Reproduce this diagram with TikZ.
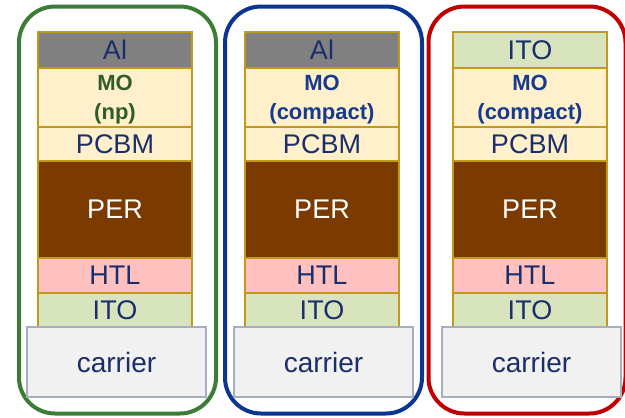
\documentclass[tikz,border=0pt]{standalone}
\usepackage{fontspec}
\setmainfont{Liberation Sans}
\definecolor{txtnavy}{HTML}{1A2F6A}
\definecolor{mogreen}{HTML}{2F5D28}
\definecolor{moblue}{HTML}{183A8C}
\definecolor{layeredge}{HTML}{C09A1A}
\definecolor{alfill}{HTML}{808080}
\definecolor{mofill}{HTML}{FFF0CC}
\definecolor{perfill}{HTML}{7B3A00}
\definecolor{htlfill}{HTML}{FFC0C0}
\definecolor{itofill}{HTML}{D8E4BE}
\definecolor{carfill}{HTML}{F1F1F1}
\definecolor{caredge}{HTML}{A5AFBD}
\definecolor{frgreen}{HTML}{3B7D35}
\definecolor{frblue}{HTML}{0A3590}
\definecolor{frred}{HTML}{C00000}
\tikzset{
  layer/.style={draw=layeredge, line width=1.2pt, inner sep=0pt, outer sep=0pt,
    minimum width=154pt, text=txtnavy, font=\fontsize{27}{30}\selectfont},
  carrierbox/.style={draw=caredge, line width=1.4pt, fill=carfill, inner sep=0pt,
    minimum width=179pt, minimum height=70pt, text=txtnavy, font=\fontsize{28}{30}\selectfont},
  frame/.style={line width=4pt, rounded corners=36pt, inner sep=0pt,
    minimum width=197pt, minimum height=407pt},
  motext/.style={font=\bfseries\fontsize{22}{29}\selectfont, align=center}
}
\begin{document}
\begin{tikzpicture}[x=1pt, y=-1pt]
\useasboundingbox (0,0) rectangle (625,418);
% rounded frames around the three stacks
\node[frame, draw=frgreen] (fr1) at (117.5,210) {};
\node[frame, draw=frblue]  (fr2) at (323.5,210) {};
\node[frame, draw=frred]   (fr3) at (527,210) {};
% column 1
\node[layer, fill=alfill,  minimum height=36pt] (top1) at (115,50) {Al};
\node[layer, fill=mofill,  minimum height=59pt] (mo1) at (115,97.5) {};
\node[motext, text=mogreen] (mot1) at (115,99.5) {MO\\(np)};
\node[layer, fill=mofill,  minimum height=34pt] (pc1) at (115,144) {PCBM};
\node[layer, fill=perfill, minimum height=97pt, text=white] (per1) at (115,209.5) {PER};
\node[layer, fill=htlfill, minimum height=35pt] (htl1) at (115,275.5) {HTL};
\node[layer, fill=itofill, minimum height=34pt] (ito1) at (115,310) {ITO};
\node[carrierbox] (car1) at (116.5,362) {carrier};
% column 2
\node[layer, fill=alfill,  minimum height=36pt] (top2) at (322,50) {Al};
\node[layer, fill=mofill,  minimum height=59pt] (mo2) at (322,97.5) {};
\node[motext, text=moblue] (mot2) at (322,99.5) {MO\\(compact)};
\node[layer, fill=mofill,  minimum height=34pt] (pc2) at (322,144) {PCBM};
\node[layer, fill=perfill, minimum height=97pt, text=white] (per2) at (322,209.5) {PER};
\node[layer, fill=htlfill, minimum height=35pt] (htl2) at (322,275.5) {HTL};
\node[layer, fill=itofill, minimum height=34pt] (ito2) at (322,310) {ITO};
\node[carrierbox] (car2) at (323.5,362) {carrier};
% column 3
\node[layer, fill=itofill, minimum height=36pt] (top3) at (530,50) {ITO};
\node[layer, fill=mofill,  minimum height=59pt] (mo3) at (530,97.5) {};
\node[motext, text=moblue] (mot3) at (530,99.5) {MO\\(compact)};
\node[layer, fill=mofill,  minimum height=34pt] (pc3) at (530,144) {PCBM};
\node[layer, fill=perfill, minimum height=97pt, text=white] (per3) at (530,209.5) {PER};
\node[layer, fill=htlfill, minimum height=35pt] (htl3) at (530,275.5) {HTL};
\node[layer, fill=itofill, minimum height=34pt] (ito3) at (530,310) {ITO};
\node[carrierbox] (car3) at (531.5,362) {carrier};
\end{tikzpicture}
\end{document}
